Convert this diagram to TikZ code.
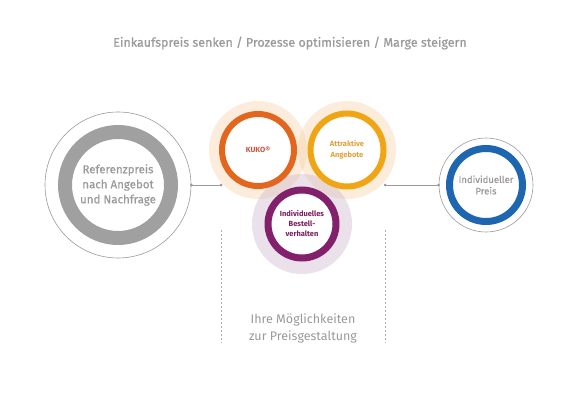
\documentclass[tikz,border=0pt]{standalone}
\usepackage{fontspec}
\setmainfont{Fira Sans}
\usetikzlibrary{positioning}
\definecolor{textgray}{HTML}{9A9A9A}
\definecolor{ringgray}{HTML}{A0A0A0}
\definecolor{kukoorange}{HTML}{E2661E}
\definecolor{kukotext}{HTML}{C5553F}
\definecolor{offeryellow}{HTML}{F0A614}
\definecolor{offertext}{HTML}{E0A238}
\definecolor{orderpurple}{HTML}{82206B}
\definecolor{ordertext}{HTML}{7A1F5E}
\definecolor{priceblue}{HTML}{1F66B0}
\definecolor{peachhalo}{HTML}{F7D1A5}
\definecolor{lilachalo}{HTML}{CDB5CB}
\begin{document}
\begin{tikzpicture}[x=1pt,y=-1pt,
    ring/.style={circle,draw,fill=white,inner sep=0pt,align=center},
    shell/.style={circle,draw=textgray,line width=0.6pt,inner sep=0pt},
    halo/.style={fill opacity=0.4},
    link/.style={draw=textgray,line width=0.8pt},
    guide/.style={draw=textgray!80,line width=0.6pt,dash pattern=on 2pt off 2pt}]
  % Canvas
  \useasboundingbox[fill=white] (0,0) rectangle (580,412);
  % Define coordinates
  \coordinate (ref) at (118,185);
  \coordinate (kuko) at (258,150);
  \coordinate (offer) at (347,150);
  \coordinate (order) at (302,224);
  \coordinate (price) at (486,185);
  \coordinate (lnkL) at (221,185);
  \coordinate (lnkR) at (385,185);
  \coordinate (guideLtop) at (221,230);
  \coordinate (guideLbot) at (221,343);
  \coordinate (guideRtop) at (385,230);
  \coordinate (guideRbot) at (385,343);
  % Title
  \node[text=textgray,font=\fontsize{12.5}{14}\selectfont\addfontfeature{FakeBold=0.6}]
    (title) at (290,43)
    {Einkaufspreis senken / Prozesse optimisieren / Marge steigern};
  % Halos behind the three levers
  \fill[peachhalo,halo] (kuko) circle (49);
  \fill[peachhalo,halo] (offer) circle (49);
  \fill[lilachalo,halo] (order) circle (50);
  % Reference price
  \node[shell,minimum size=146pt] (refshell) at (ref) {};
  \node[ring,draw=ringgray,line width=14pt,minimum size=106pt,text=textgray,
    font=\fontsize{11.5}{15}\selectfont\addfontfeature{FakeBold=0.4}] (refring) at (ref)
    {Referenzpreis\\nach Angebot\\und Nachfrage};
  % Levers
  \node[ring,draw=kukoorange,line width=6pt,minimum size=72pt,text=kukotext,
    font=\bfseries\fontsize{7.5}{11}\selectfont] (kukoring) at (kuko) {KUKO®};
  \node[ring,draw=offeryellow,line width=6pt,minimum size=73pt,text=offertext,
    font=\bfseries\fontsize{7.5}{11}\selectfont] (offerring) at (offer)
    {Attraktive\\Angebote};
  \node[ring,draw=orderpurple,line width=7pt,minimum size=68pt,text=ordertext,
    font=\bfseries\fontsize{7.5}{10}\selectfont] (orderring) at (order)
    {Individuelles\\Bestell-\\verhalten};
  % Individual price
  \node[shell,minimum size=94pt] (priceshell) at (price) {};
  \node[ring,draw=priceblue,line width=7pt,minimum size=73pt,text=textgray,
    font=\fontsize{9.5}{11.5}\selectfont\addfontfeature{FakeBold=0.4}] (pricering) at (price)
    {Individueller\\Preis};
  % Connectors
  \draw[link] (refshell.east) -- (lnkL);
  \draw[link] (lnkR) -- (priceshell.west);
  \fill[textgray] (refshell.east) circle (1.5);
  \fill[textgray] (lnkL) circle (1.5);
  \fill[textgray] (lnkR) circle (1.5);
  \fill[textgray] (priceshell.west) circle (1.5);
  % Dashed guides
  \draw[guide] (guideLtop) -- (guideLbot);
  \draw[guide] (guideRtop) -- (guideRbot);
  % Caption
  \node[text=textgray,align=center,font=\fontsize{12.5}{17}\selectfont] (caption)
    at (303,328) {Ihre Möglichkeiten\\zur Preisgestaltung};
\end{tikzpicture}
\end{document}
